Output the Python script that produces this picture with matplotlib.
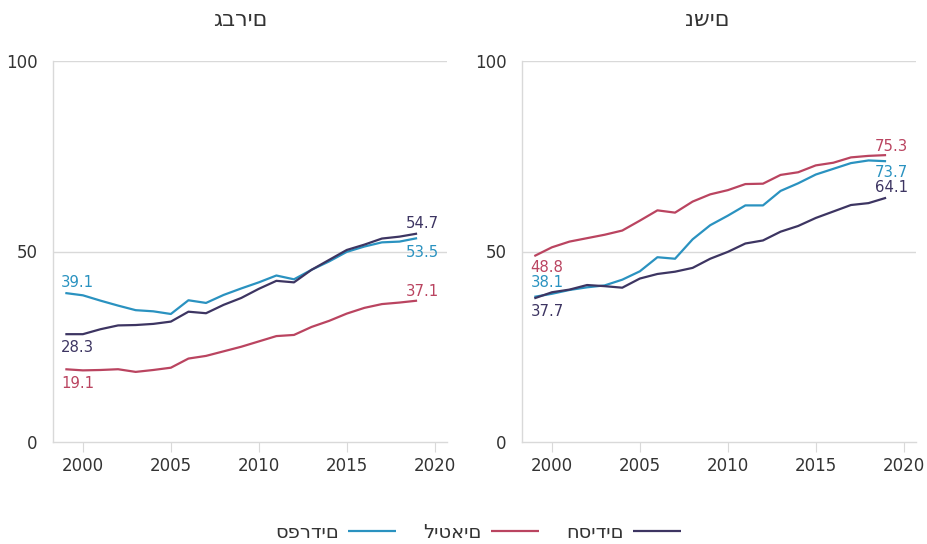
import matplotlib
matplotlib.use("Agg")
import matplotlib.pyplot as plt

# data
years = list(range(1999, 2020))

# men (גברים)
men_sephardi = [39.1, 38.5, 37.1, 35.8, 34.6, 34.3, 33.6, 37.2, 36.5, 38.6, 40.3,
                41.9, 43.7, 42.7, 45.2, 47.4, 49.9, 51.3, 52.4, 52.6, 53.5]
men_hasidim = [28.3, 28.3, 29.6, 30.6, 30.7, 31.0, 31.6, 34.2, 33.8, 36.0, 37.8,
               40.2, 42.3, 41.9, 45.2, 47.8, 50.4, 51.8, 53.4, 53.9, 54.7]
men_lithuanian = [19.1, 18.8, 18.9, 19.1, 18.4, 18.9, 19.5, 21.9, 22.6, 23.8, 25.0,
                  26.4, 27.8, 28.1, 30.2, 31.8, 33.7, 35.2, 36.2, 36.6, 37.1]

# women (נשים)
women_lithuanian = [48.8, 51.1, 52.6, 53.5, 54.4, 55.5, 58.1, 60.8, 60.2, 63.1, 65.0,
                    66.1, 67.7, 67.8, 70.1, 70.8, 72.6, 73.3, 74.7, 75.1, 75.3]
women_sephardi = [38.1, 38.9, 39.9, 40.6, 41.1, 42.6, 44.8, 48.5, 48.1, 53.2, 56.9,
                  59.4, 62.1, 62.1, 65.9, 67.9, 70.2, 71.7, 73.2, 73.9, 73.7]
women_hasidim = [37.7, 39.3, 40.0, 41.2, 40.9, 40.5, 42.9, 44.1, 44.7, 45.7, 48.1,
                 49.9, 52.1, 52.9, 55.2, 56.7, 58.8, 60.5, 62.2, 62.7, 64.1]

titles = ["גברים", "נשים"]
legend_labels = ["ספרדים", "ליטאים", "חסידים"]

c_seph = "#2a92c0"
c_lit = "#ba4460"
c_has = "#3d3562"
grid_c = "#d9d9d9"
txt_c = "#333333"

plt.rcParams['font.family'] = ['DejaVu Sans']

fig = plt.figure(figsize=(9.27, 5.44), dpi=100)
ax_l = fig.add_axes([53/927, 1-442/544, 394/927, 381/544])
ax_r = fig.add_axes([522/927, 1-442/544, 394/927, 381/544])

# (series, color, start label offset y, end label offset y) in pixels
panels = [
    (ax_l, [(men_sephardi, c_seph, 11, -14), (men_lithuanian, c_lit, -14, 9),
            (men_hasidim, c_has, -13, 10)]),
    (ax_r, [(women_sephardi, c_seph, 14, -11), (women_lithuanian, c_lit, -11, 9),
            (women_hasidim, c_has, -13, 10)]),
]

handles = {}
for ax, series in panels:
    for vals, col, off0, off1 in series:
        ln, = ax.plot(years, vals, color=col, lw=1.6, solid_capstyle='butt')
        handles[col] = ln
        ax.annotate(f"{vals[0]:.1f}", (years[0], vals[0]), xytext=(-4, off0),
                    textcoords='offset pixels', ha='left', va='center',
                    color=col, fontsize=10.7)
        ax.annotate(f"{vals[-1]:.1f}", (years[-1], vals[-1]), xytext=(5, off1),
                    textcoords='offset pixels', ha='center', va='center',
                    color=col, fontsize=10.7)

    ax.set_xlim(1998.3, 2020.7)
    ax.set_ylim(0, 100)
    ax.set_xticks([2000, 2005, 2010, 2015, 2020])
    ax.set_yticks([0, 50, 100])
    ax.tick_params(axis='x', length=7, color=grid_c, labelcolor=txt_c,
                   labelsize=12, pad=4)
    ax.tick_params(axis='y', length=0, labelcolor=txt_c, labelsize=12, pad=11)
    for y in (50, 100):
        ax.axhline(y, color=grid_c, lw=1, zorder=0)
    for s in ('top', 'right'):
        ax.spines[s].set_visible(False)
    for s in ('left', 'bottom'):
        ax.spines[s].set_color(grid_c)
        ax.spines[s].set_linewidth(1)

fig.text(240/927, 1-20/544, titles[0], ha='center', va='center',
         fontsize=16, color=txt_c)
fig.text(707/927, 1-20/544, titles[1], ha='center', va='center',
         fontsize=16, color=txt_c)

fig.legend([handles[c_seph], handles[c_lit], handles[c_has]], legend_labels,
           loc='center', bbox_to_anchor=(478/927, 1-532/544), ncol=3,
           frameon=False, markerfirst=False, fontsize=14, handlelength=2.45,
           handletextpad=0.5, columnspacing=1.4, labelcolor=txt_c)

fig.savefig("out.png", dpi=100)
